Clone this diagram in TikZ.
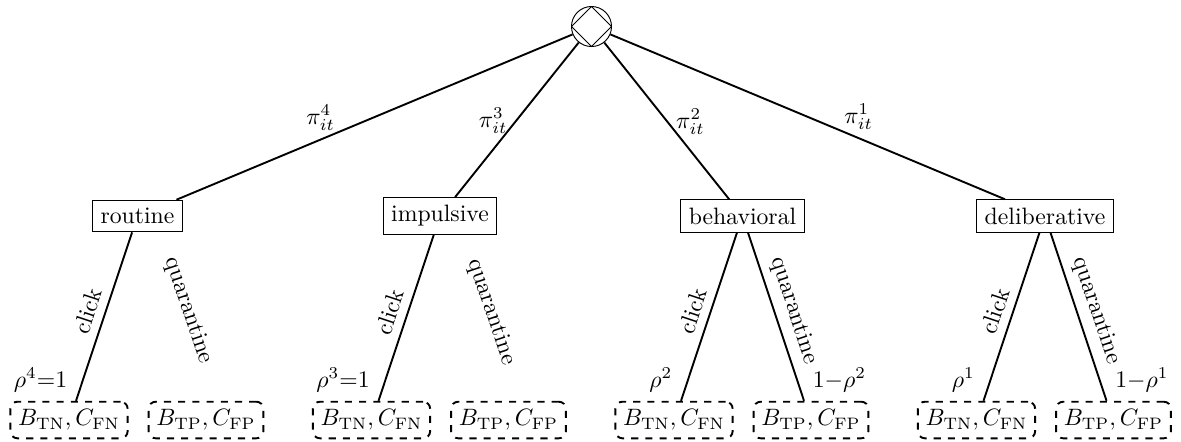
\documentclass[tikz,border=0pt]{standalone}
\usetikzlibrary{calc}
\begin{document}
\begin{tikzpicture}[x=0.422pt,y=-0.422pt,
  rootnode/.style={circle,draw,minimum size=16.9pt,inner sep=0pt,
    path picture={\draw (path picture bounding box.north) -- (path picture bounding box.east) -- (path picture bounding box.south) -- (path picture bounding box.west) -- cycle;}},
  typebox/.style={draw,rectangle,inner sep=3.33pt},
  leafbox/.style={draw,dashed,thick,rounded corners=3pt},
  branch/.style={thick}
]
\useasboundingbox (0,0) rectangle (1181,441);
\node[rootnode] (r) at (591.5,26.5) {};
\node[typebox] (t4) at (137.5,216) {routine};
\node[typebox] (t3) at (440,216) {impulsive};
\node[typebox] (t2) at (742.5,216) {behavioral};
\node[typebox] (t1) at (1045,216) {deliberative};
% leaves
\node[leafbox] (l4a) at (69,420) {$B_{\mathrm{TN}},C_{\mathrm{FN}}$};
\node[leafbox] (l4b) at (206,420) {$B_{\mathrm{TP}},C_{\mathrm{FP}}$};
\node[leafbox] (l3a) at (371.5,420) {$B_{\mathrm{TN}},C_{\mathrm{FN}}$};
\node[leafbox] (l3b) at (508.5,420) {$B_{\mathrm{TP}},C_{\mathrm{FP}}$};
\node[leafbox] (l2a) at (674,420) {$B_{\mathrm{TN}},C_{\mathrm{FN}}$};
\node[leafbox] (l2b) at (811,420) {$B_{\mathrm{TP}},C_{\mathrm{FP}}$};
\node[leafbox] (l1a) at (976.5,420) {$B_{\mathrm{TN}},C_{\mathrm{FN}}$};
\node[leafbox] (l1b) at (1113.5,420) {$B_{\mathrm{TP}},C_{\mathrm{FP}}$};
% top branches
\draw[branch] (r) -- node[pos=0.636,above] {$\pi^4_{it}$} (t4);
\draw[branch] (r) -- node[pos=0.505,left] {$\pi^3_{it}$} (t3);
\draw[branch] (r) -- node[pos=0.505,right] {$\pi^2_{it}$} (t2);
\draw[branch] (r) -- node[pos=0.629,above] {$\pi^1_{it}$} (t1);
% routine
\draw[branch] (t4) -- node[midway,sloped,above] {click} node[at end,above left] {$\rho^4{=}1$} ($(l4a.north)+(7,0)$);
\path (t4) -- node[midway,sloped,above] {quarantine} ($(l4b.north)+(-7,0)$);
% impulsive
\draw[branch] (t3) -- node[midway,sloped,above] {click} node[at end,above left] {$\rho^3{=}1$} ($(l3a.north)+(7,0)$);
\path (t3) -- node[midway,sloped,above] {quarantine} ($(l3b.north)+(-7,0)$);
% behavioral
\draw[branch] (t2) -- node[midway,sloped,above] {click} node[at end,above left] {$\rho^2$} ($(l2a.north)+(7,0)$);
\draw[branch] (t2) -- node[midway,sloped,above] {quarantine} node[at end,above right] {$1{-}\rho^2$} ($(l2b.north)+(-7,0)$);
% deliberative
\draw[branch] (t1) -- node[midway,sloped,above] {click} node[at end,above left] {$\rho^1$} ($(l1a.north)+(7,0)$);
\draw[branch] (t1) -- node[midway,sloped,above] {quarantine} node[at end,above right] {$1{-}\rho^1$} ($(l1b.north)+(-7,0)$);
\end{tikzpicture}
\end{document}
